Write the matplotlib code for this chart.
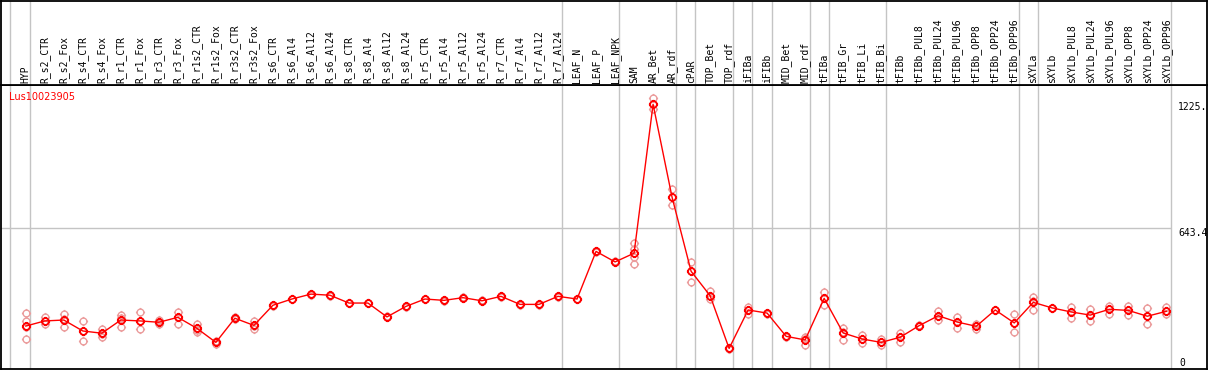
import numpy as np
import matplotlib
matplotlib.use("Agg")
import matplotlib.pyplot as plt
from matplotlib.path import Path
from matplotlib.transforms import blended_transform_factory

#==============================================================================
# data
gene = 'Lus10023905'

samples = ['HYP', 'R_s2_CTR', 'R_s2_Fox', 'R_s4_CTR', 'R_s4_Fox', 'R_r1_CTR', 'R_r1_Fox',
           'R_r3_CTR', 'R_r3_Fox', 'R_r1s2_CTR', 'R_r1s2_Fox', 'R_r3s2_CTR', 'R_r3s2_Fox',
           'R_s6_CTR', 'R_s6_Al4', 'R_s6_Al12', 'R_s6_Al24', 'R_s8_CTR', 'R_s8_Al4',
           'R_s8_Al12', 'R_s8_Al24', 'R_r5_CTR', 'R_r5_Al4', 'R_r5_Al12', 'R_r5_Al24',
           'R_r7_CTR', 'R_r7_Al4', 'R_r7_Al12', 'R_r7_Al24', 'LEAF_N', 'LEAF_P', 'LEAF_NPK',
           'SAM', 'AR_Bet', 'AR_rdf', 'cPAR', 'TOP_Bet', 'TOP_rdf', 'iFIBa', 'iFIBb',
           'MID_Bet', 'MID_rdf', 'tFIBa', 'tFIB_Gr', 'tFIB_Li', 'tFIB_Bi', 'tFIBb',
           'tFIBb_PUL8', 'tFIBb_PUL24', 'tFIBb_PUL96', 'tFIBb_OPP8', 'tFIBb_OPP24',
           'tFIBb_OPP96', 'sXYLa', 'sXYLb', 'sXYLb_PUL8', 'sXYLb_PUL24', 'sXYLb_PUL96',
           'sXYLb_OPP8', 'sXYLb_OPP24', 'sXYLb_OPP96']

means = [206, 229, 233, 184, 174, 233, 229, 223, 245, 196, 133, 241, 209,
         299, 327, 349, 344, 309, 309, 247, 294, 327, 321, 333, 319, 339, 303, 303, 339,
         327, 540, 493, 532, 1198, 782, 451, 342, 106, 278, 264, 160, 144, 330,
         175, 148, 133, 156, 208, 252, 224, 205, 278, 220, 312, 287, 269, 255,
         281, 276, 250, 272]

reps = [[264, 230, 202, 147], [245, 229, 214], [261, 237, 200], [230, 184, 138],
        [193, 172, 157], [255, 240, 203], [269, 228, 191], [233, 221, 216],
        [270, 248, 217], [217, 190, 181], [140, 133, 126], [245, 241, 237],
        [229, 206, 193], [301, 297], [329, 325], [351, 347], [346, 342], [311, 307],
        [311, 307], [249, 245], [296, 292], [329, 325], [323, 319], [335, 331],
        [321, 317], [341, 337], [305, 301], [305, 301], [341, 337], [329, 325],
        [542, 538], [495, 491], [576, 551, 516, 482], [1225, 1198, 1176],
        [818, 782, 746], [494, 451, 403], [363, 340, 326], [110, 106, 102],
        [293, 280, 260], [266, 262], [162, 158], [156, 150, 120], [358, 330, 299],
        [196, 180, 142], [167, 148, 129], [147, 135, 121], [176, 158, 133],
        [210, 206], [273, 252, 233], [248, 224, 196], [215, 207, 191], [280, 276],
        [259, 220, 178], [337, 318, 278], [289, 285], [291, 269, 241],
        [281, 255, 227], [296, 281, 260], [296, 276, 254], [285, 250, 214],
        [293, 272, 259]]

# last sample of each tissue group (gray separators drawn after these)
group_ends = [-1, 0, 28, 31, 34, 35, 37, 38, 39, 41, 42, 45, 52, 53, 60]

ymax_label = '1225.'
ymid = 643.4
#==============================================================================

W, H = 1209, 370
fig = plt.figure(figsize=(W / 100, H / 100), dpi=100)
fig.patch.set_facecolor('white')

head_px = 85.3
ax = fig.add_axes([0.5 / W, 1 / H, 1206.5 / W, (369 - head_px) / H])
axh = fig.add_axes([0.5 / W, (H - head_px) / H, 1206.5 / W, (head_px - 0.5) / H])

x = np.arange(len(samples))
xl = (-1.33, 62.14)
for a in (ax, axh):
    a.set_xlim(*xl)
    a.set_xticks([])
    a.set_yticks([])
    for s in a.spines.values():
        s.set_linewidth(1.3)
        s.set_color('black')
ax.set_ylim(13.9, 1283.2)
axh.set_ylim(0, 1)

# separators
for g in group_ends:
    xs = g + 0.23 if g >= 0 else -0.82
    ax.axvline(xs, color='#c4c4c4', lw=1.0, zorder=1)
    axh.axvline(xs, color='#c4c4c4', lw=1.0, zorder=1)
ax.hlines(ymid, xl[0], group_ends[-1] + 0.23, color='#c4c4c4', lw=1.0, zorder=1)

# circle marker with small ticks
circ = Path.unit_circle()
tk = []
for dx, dy in [(0, 1), (0, -1), (1, 0), (-1, 0)]:
    tk.append(Path([(dx * 1.0, dy * 1.0), (dx * 1.35, dy * 1.35)], [Path.MOVETO, Path.LINETO]))
mk = Path.make_compound_path(circ, *tk)

rx = np.concatenate([[i] * len(r) for i, r in enumerate(reps)])
ry = np.concatenate(reps)
ax.plot(rx, ry, ls='none', marker=mk, ms=6.6, mfc='none', mec='#eb9c9c', mew=1.0, zorder=2)
ax.plot(x, means, color='red', lw=1.0, marker=mk, ms=6.6, mfc='none', mec='red', mew=1.3, zorder=3)

# sample labels
tr = blended_transform_factory(axh.transData, axh.transAxes)
for i, s in enumerate(samples):
    axh.text(i, 0.025, s, rotation=90, ha='center', va='bottom', transform=tr,
             family='DejaVu Sans Mono', fontsize=7, color='black')

# y labels on the right
trr = blended_transform_factory(ax.transAxes, ax.transData)
ax.text(1177.5 / 1206.5, ymid, '%.1f' % ymid, ha='left', va='top', transform=trr,
        family='DejaVu Sans Mono', fontsize=7)
ax.text(1177.5 / 1206.5, (369 - 106.7) / (369 - head_px), ymax_label, ha='left',
        va='center', transform=ax.transAxes, family='DejaVu Sans Mono', fontsize=7)
ax.text(1179 / 1206.5, (369 - 362.5) / (369 - head_px), '0', ha='left', va='center',
        transform=ax.transAxes, family='DejaVu Sans Mono', fontsize=7)

ax.text(9 / 1206.5, (369 - 96.7) / (369 - head_px), gene, ha='left', va='center',
        transform=ax.transAxes, color='red', fontsize=7, family='DejaVu Sans')

fig.savefig('out.png', dpi=100)
